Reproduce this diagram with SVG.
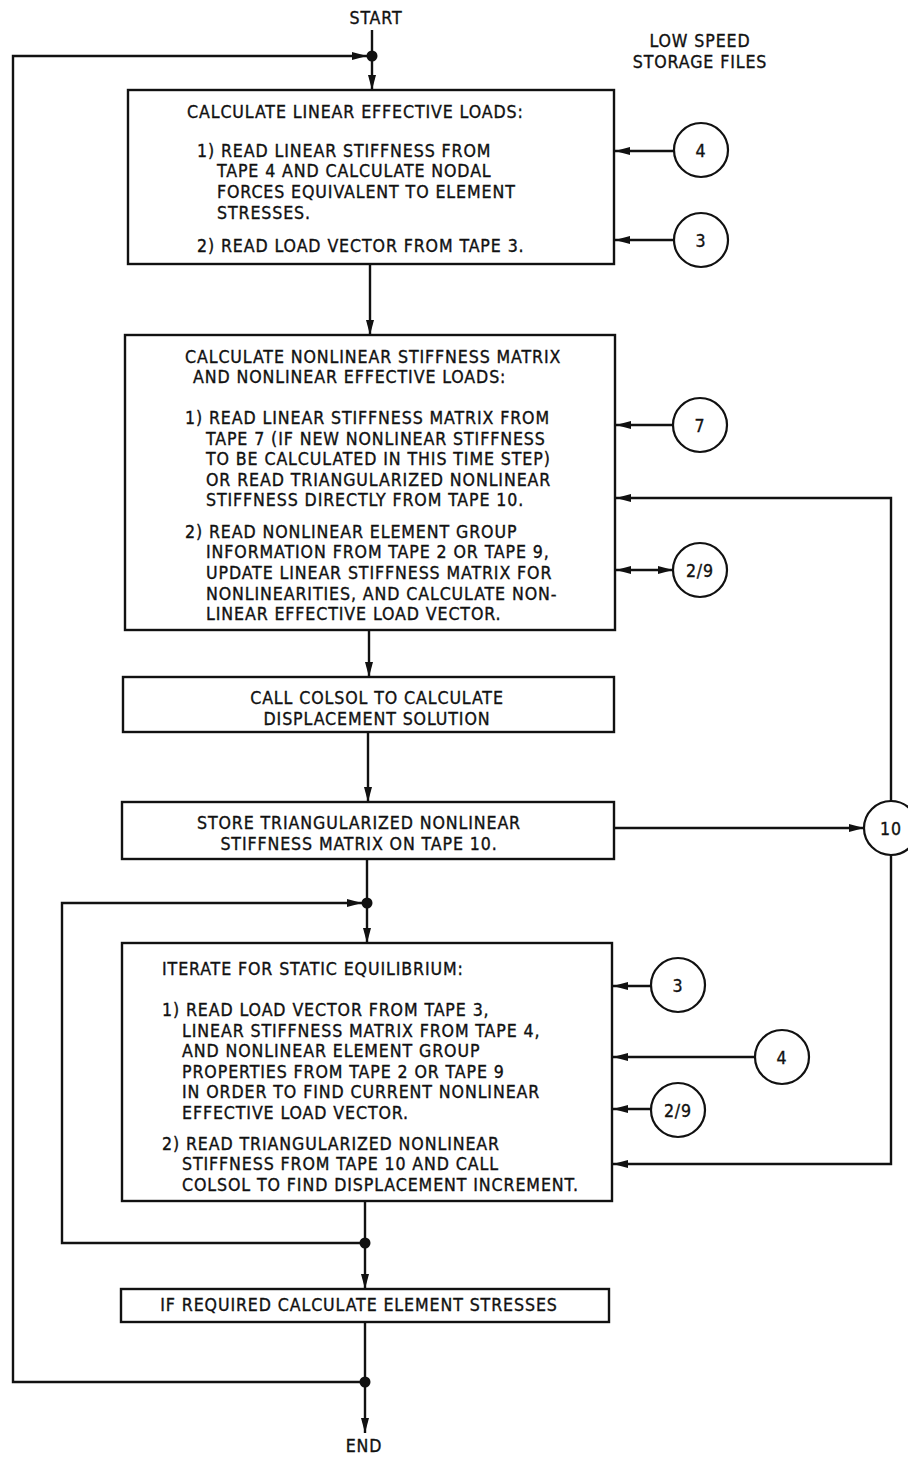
<svg xmlns="http://www.w3.org/2000/svg" width="908" height="1458" viewBox="0 0 908 1458">
<style>
text{font-family:"DejaVu Sans Condensed","Liberation Sans",sans-serif;font-size:17.6px;letter-spacing:0.9px;fill:#111;stroke:#111;stroke-width:0.35}
.m{text-anchor:middle}
.box{fill:#fff;stroke:#111;stroke-width:2.4}
.c{fill:#fff;stroke:#111;stroke-width:2.2}
.ln{fill:none;stroke:#111;stroke-width:2.4}
.a{marker-end:url(#ah)}
.dot{fill:#111}
</style>
<defs>
<marker id="ah" markerUnits="userSpaceOnUse" markerWidth="16" markerHeight="10" refX="15" refY="5" orient="auto">
<path d="M0,1 L15,5 L0,9 z" fill="#111"/>
</marker>
<marker id="as" markerUnits="userSpaceOnUse" markerWidth="16" markerHeight="10" refX="0" refY="5" orient="auto">
<path d="M15,1 L0,5 L15,9 z" fill="#111"/>
</marker>
</defs>
<rect width="908" height="1458" fill="#fff"/>
<text x="376" y="24" class="m">START</text>
<text x="700" y="47" class="m">LOW SPEED</text>
<text x="700" y="68" class="m">STORAGE FILES</text>
<g id="connectors">
<line class="ln" x1="372" y1="30" x2="372" y2="56"/>
<line class="ln a" x1="372" y1="56" x2="372" y2="90"/>
<polyline class="ln a" points="365,1382 13,1382 13,56 367,56"/>
<line class="ln a" x1="370" y1="264" x2="370" y2="335"/>
<line class="ln a" x1="674" y1="151" x2="615" y2="151"/>
<line class="ln a" x1="674" y1="240" x2="615" y2="240"/>
<line class="ln a" x1="673" y1="425" x2="616" y2="425"/>
<line class="ln" x1="673" y1="570" x2="616" y2="570" style="marker-end:url(#ah);marker-start:url(#as)"/>
<polyline class="ln a" points="891,801 891,498 616,498"/>
<line class="ln a" x1="369" y1="630" x2="369" y2="677"/>
<line class="ln a" x1="368" y1="732" x2="368" y2="802"/>
<line class="ln a" x1="614" y1="828" x2="864" y2="828"/>
<line class="ln" x1="367" y1="859" x2="367" y2="903"/>
<line class="ln a" x1="367" y1="903" x2="367" y2="943"/>
<polyline class="ln a" points="362,1243 62,1243 62,903 362,903"/>
<line class="ln a" x1="651" y1="986" x2="613" y2="986"/>
<line class="ln a" x1="755" y1="1057" x2="613" y2="1057"/>
<line class="ln a" x1="651" y1="1109" x2="613" y2="1109"/>
<polyline class="ln a" points="891,855 891,1164 613,1164"/>
<line class="ln" x1="365" y1="1201" x2="365" y2="1243"/>
<line class="ln a" x1="365" y1="1243" x2="365" y2="1289"/>
<line class="ln" x1="365" y1="1322" x2="365" y2="1382"/>
<line class="ln a" x1="365" y1="1382" x2="365" y2="1433"/>
<circle class="dot" cx="372" cy="56" r="5.5"/>
<circle class="dot" cx="367" cy="903" r="5.5"/>
<circle class="dot" cx="365" cy="1243" r="5.5"/>
<circle class="dot" cx="365" cy="1382" r="5.5"/>
</g>
<g id="box1">
<rect class="box" x="128" y="90" width="486" height="174"/>
<text x="187" y="118">CALCULATE LINEAR EFFECTIVE LOADS:</text>
<text x="197" y="157">1) READ LINEAR STIFFNESS FROM</text>
<text x="217" y="177">TAPE 4 AND CALCULATE NODAL</text>
<text x="217" y="198">FORCES EQUIVALENT TO ELEMENT</text>
<text x="217" y="219">STRESSES.</text>
<text x="197" y="252">2) READ LOAD VECTOR FROM TAPE 3.</text>
</g>
<g id="box2">
<rect class="box" x="125" y="335" width="490" height="295"/>
<text x="185" y="363">CALCULATE NONLINEAR STIFFNESS MATRIX</text>
<text x="193" y="383">AND NONLINEAR EFFECTIVE LOADS:</text>
<text x="185" y="424">1) READ LINEAR STIFFNESS MATRIX FROM</text>
<text x="206" y="445">TAPE 7 (IF NEW NONLINEAR STIFFNESS</text>
<text x="206" y="465">TO BE CALCULATED IN THIS TIME STEP)</text>
<text x="206" y="486">OR READ TRIANGULARIZED NONLINEAR</text>
<text x="206" y="506">STIFFNESS DIRECTLY FROM TAPE 10.</text>
<text x="185" y="538">2) READ NONLINEAR ELEMENT GROUP</text>
<text x="206" y="558">INFORMATION FROM TAPE 2 OR TAPE 9,</text>
<text x="206" y="579">UPDATE LINEAR STIFFNESS MATRIX FOR</text>
<text x="206" y="600">NONLINEARITIES, AND CALCULATE NON-</text>
<text x="206" y="620">LINEAR EFFECTIVE LOAD VECTOR.</text>
</g>
<g id="box3">
<rect class="box" x="123" y="677" width="491" height="55"/>
<text x="377" y="704" class="m">CALL COLSOL TO CALCULATE</text>
<text x="377" y="725" class="m">DISPLACEMENT SOLUTION</text>
</g>
<g id="box4">
<rect class="box" x="122" y="802" width="492" height="57"/>
<text x="359" y="829" class="m">STORE TRIANGULARIZED NONLINEAR</text>
<text x="359" y="850" class="m">STIFFNESS MATRIX ON TAPE 10.</text>
</g>
<g id="box5">
<rect class="box" x="122" y="943" width="490" height="258"/>
<text x="162" y="975">ITERATE FOR STATIC EQUILIBRIUM:</text>
<text x="162" y="1016">1) READ LOAD VECTOR FROM TAPE 3,</text>
<text x="182" y="1037">LINEAR STIFFNESS MATRIX FROM TAPE 4,</text>
<text x="182" y="1057">AND NONLINEAR ELEMENT GROUP</text>
<text x="182" y="1078">PROPERTIES FROM TAPE 2 OR TAPE 9</text>
<text x="182" y="1098">IN ORDER TO FIND CURRENT NONLINEAR</text>
<text x="182" y="1119">EFFECTIVE LOAD VECTOR.</text>
<text x="162" y="1150">2) READ TRIANGULARIZED NONLINEAR</text>
<text x="182" y="1170">STIFFNESS FROM TAPE 10 AND CALL</text>
<text x="182" y="1191">COLSOL TO FIND DISPLACEMENT INCREMENT.</text>
</g>
<g id="box6">
<rect class="box" x="121" y="1289" width="488" height="33"/>
<text x="359" y="1311" class="m">IF REQUIRED CALCULATE ELEMENT STRESSES</text>
</g>
<g id="tape4a"><circle class="c" cx="701" cy="150" r="27"/><text x="701" y="157" class="m">4</text></g>
<g id="tape3a"><circle class="c" cx="701" cy="240" r="27"/><text x="701" y="247" class="m">3</text></g>
<g id="tape7"><circle class="c" cx="700" cy="425" r="27"/><text x="700" y="432" class="m">7</text></g>
<g id="tape29a"><circle class="c" cx="700" cy="570" r="27"/><text x="700" y="577" class="m">2/9</text></g>
<g id="tape10"><circle class="c" cx="891" cy="828" r="27"/><text x="891" y="835" class="m">10</text></g>
<g id="tape3b"><circle class="c" cx="678" cy="985" r="27"/><text x="678" y="992" class="m">3</text></g>
<g id="tape4b"><circle class="c" cx="782" cy="1057" r="27"/><text x="782" y="1064" class="m">4</text></g>
<g id="tape29b"><circle class="c" cx="678" cy="1110" r="27"/><text x="678" y="1117" class="m">2/9</text></g>
<text x="364" y="1452" class="m">END</text>
</svg>
